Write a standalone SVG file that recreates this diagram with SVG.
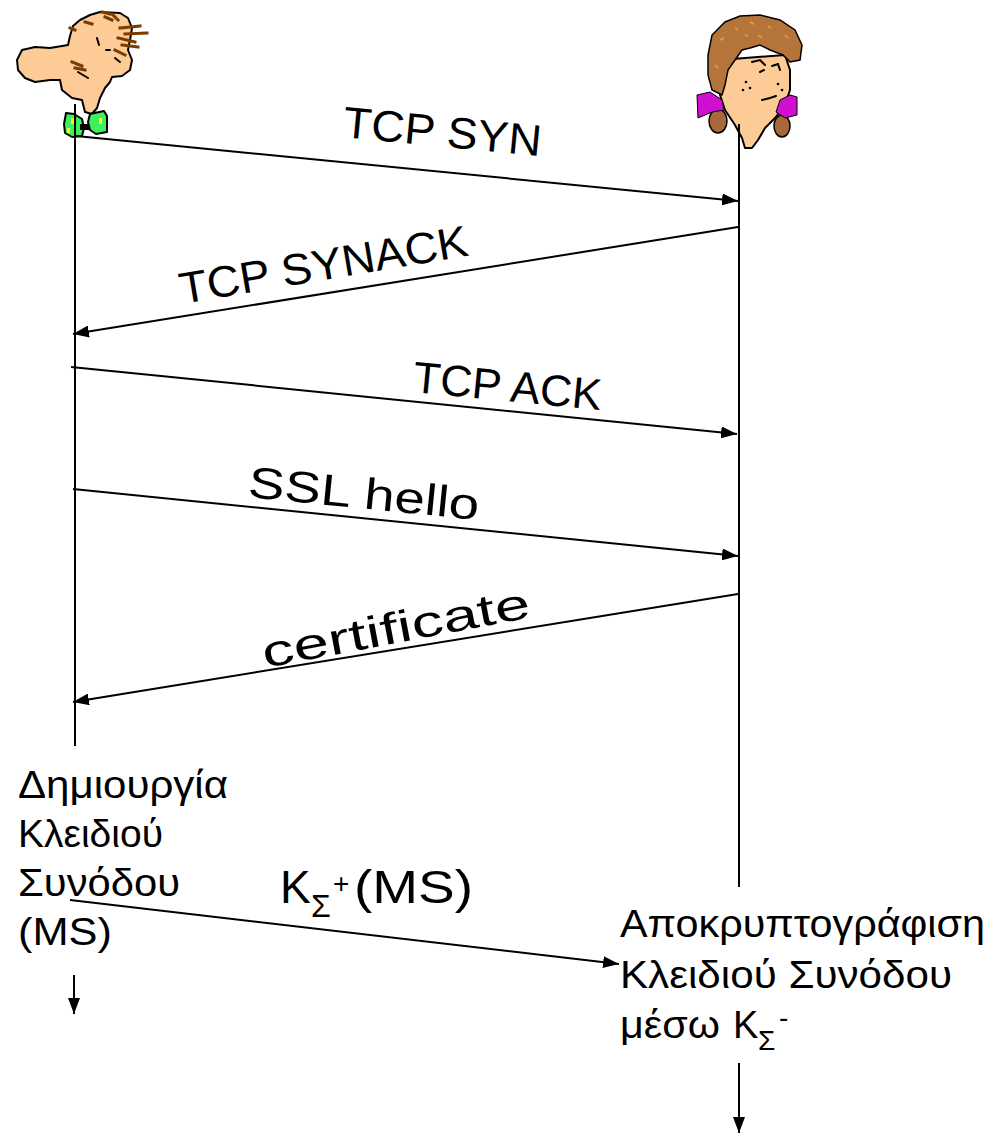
<svg xmlns="http://www.w3.org/2000/svg" width="993" height="1133" viewBox="0 0 993 1133">
  <style>
    .life { stroke: #000; stroke-width: 2; fill: none; }
    .msg { stroke: #000; stroke-width: 2; fill: none; marker-end: url(#head); }
    .lbl { font-family: "Liberation Sans", "DejaVu Sans", sans-serif; font-size: 44px; fill: #000; }
    .note { font-family: "Liberation Sans", "DejaVu Sans", sans-serif; font-size: 38px; fill: #000; }
    .big { font-size: 46px; }
    .sub { font-size: 32px; }
    .sup { font-size: 28px; }
    .subS { font-size: 28px; }
    .skin { fill: #fccb96; stroke: #000; stroke-width: 2; stroke-linejoin: round; }
    .hairB { stroke: #7a3c00; stroke-width: 3; fill: none; stroke-linecap: square; }
    .ink { stroke: #000; stroke-width: 2; fill: none; stroke-linecap: round; }
    .tie { fill: #3cf060; stroke: #000; stroke-width: 2; stroke-linejoin: round; }
  </style>
  <defs>
    <marker id="head" markerUnits="userSpaceOnUse" markerWidth="16" markerHeight="12" refX="16" refY="6" orient="auto">
      <path d="M0,0 L16,6 L0,12 Z" fill="#000"/>
    </marker>
  </defs>
  <rect width="993" height="1133" fill="#fff"/>

  <!-- client (left figure) -->
  <g id="bob">
    <path class="skin" d="M17,60 L22,50 L35,47 L50,48 L68,45 L70,36 L73,26 L80,20 L90,15 L100,12 L120,13 L128,18 L132,28 L130,40 L128,50 L132,60 L130,70 L122,76 L112,77 L110,82 L105,88 L100,98 L97,108 L92,114 L85,112 L82,100 L72,98 L62,90 L60,80 L50,80 L35,82 L25,78 L18,70 Z"/>
    <path class="hairB" d="M102,12 L110,14 M105,17 L112,20 M112,14 L118,20 M85,22 L92,24 M70,28 L75,30 M120,28 L140,26 M125,34 L147,33 M118,38 L135,42 M122,45 L138,47 M115,50 L125,55 M72,62 L82,66 M75,68 L85,70"/>
    <path class="ink" d="M97,38 L99,45 M106,50 L110,50 M115,58 L120,62 M78,72 L88,78"/>
    <path class="tie" d="M66,113 L74,114 L82,119 L84,128 L82,136 L72,137 L65,133 L64,124 Z"/>
    <path class="tie" d="M90,114 L104,111 L107,116 L107,132 L96,134 L90,130 L88,122 Z"/>
    <rect x="71" y="118" width="3" height="6" fill="#ffff00"/>
    <rect x="67" y="128" width="3" height="5" fill="#ffff00"/>
    <rect x="99" y="118" width="3" height="6" fill="#ffff00"/>
    <rect x="80" y="124" width="9" height="6" fill="#000"/>
  </g>

  <!-- server (right figure) -->
  <g id="alice">
    <ellipse cx="718" cy="121" rx="9" ry="12" fill="#a8683a" stroke="#000" stroke-width="1.5"/>
    <ellipse cx="782" cy="126" rx="8" ry="11" fill="#a8683a" stroke="#000" stroke-width="1.5"/>
    <path class="skin" d="M720,60 L718,80 L720,95 L725,110 L735,125 L742,138 L745,148 L752,148 L758,140 L765,128 L775,118 L785,105 L790,90 L790,70 L785,55 Z"/>
    <path d="M708,55 L712,35 L725,22 L740,16 L760,15 L780,20 L795,30 L802,45 L800,60 L790,62 L783,55 L770,50 L760,45 L750,48 L742,50 L735,60 L728,70 L725,85 L722,95 L712,90 L708,75 Z" fill="#b5743a" stroke="#000" stroke-width="1.5"/>
    <path d="M720,40 L724,38 M735,28 L738,30 M750,22 L754,24 M768,26 L771,28 M785,35 L788,38 M715,65 L718,68 M758,36 L762,37 M745,35 L748,36" stroke="#d89a40" stroke-width="2"/>
    <path class="ink" d="M752,62 L760,60 L765,65 M772,66 L778,64 L780,70 M760,72 L764,70 M762,100 L770,98 L776,96"/>
    <circle cx="746" cy="82" r="1.3"/>
    <circle cx="750" cy="88" r="1.3"/>
    <circle cx="743" cy="90" r="1.3"/>
    <circle cx="778" cy="84" r="1.3"/>
    <circle cx="782" cy="90" r="1.3"/>
    <path d="M697,95 L710,92 L722,100 L724,110 L712,112 L698,118 Z" fill="#d010d0" stroke="#000" stroke-width="1"/>
    <path d="M780,100 L790,95 L797,97 L797,115 L785,118 L776,112 Z" fill="#d010d0" stroke="#000" stroke-width="1"/>
  </g>

  <!-- lifelines and message arrows -->
  <g id="connectors">
    <line class="life" x1="75" y1="104" x2="75" y2="746"/>
    <line class="life" x1="739" y1="124" x2="739" y2="887"/>
    <line class="msg" x1="76" y1="136" x2="738" y2="201"/>
    <line class="msg" x1="738" y1="227" x2="73" y2="334"/>
    <line class="msg" x1="71" y1="367" x2="737" y2="434"/>
    <line class="msg" x1="73" y1="489" x2="738" y2="556"/>
    <line class="msg" x1="738" y1="594" x2="73" y2="702"/>
    <line class="msg" x1="70" y1="900" x2="619" y2="964"/>
    <line class="msg" x1="74" y1="975" x2="74" y2="1014"/>
    <line class="msg" x1="739" y1="1063" x2="739" y2="1133"/>
  </g>

  <!-- message labels -->
  <g id="labels">
    <text class="lbl" transform="translate(342,137) rotate(5.5)" textLength="199" lengthAdjust="spacingAndGlyphs">TCP SYN</text>
    <text class="lbl" transform="translate(182,304) rotate(-9.6)" textLength="292" lengthAdjust="spacingAndGlyphs">TCP SYNACK</text>
    <text class="lbl" transform="translate(412,392) rotate(5.5)" textLength="189" lengthAdjust="spacingAndGlyphs">TCP ACK</text>
    <text class="lbl" transform="translate(247,497) rotate(5.7)" textLength="232" lengthAdjust="spacingAndGlyphs">SSL hello</text>
    <text class="lbl" transform="translate(265,668) rotate(-10.8)" textLength="272" lengthAdjust="spacingAndGlyphs">certificate</text>
    <text class="lbl big" x="280" y="903">K</text>
    <text class="lbl sub" x="311" y="917">Σ</text>
    <text class="lbl sup" x="333" y="893">+</text>
    <text class="lbl big" x="354" y="903" textLength="119" lengthAdjust="spacingAndGlyphs">(MS)</text>
  </g>

  <!-- client-side note -->
  <g id="note-client">
    <text class="note" x="18" y="798" textLength="210" lengthAdjust="spacingAndGlyphs">Δημιουργία</text>
    <text class="note" x="18" y="847" textLength="145" lengthAdjust="spacingAndGlyphs">Κλειδιού</text>
    <text class="note" x="18" y="896" textLength="162" lengthAdjust="spacingAndGlyphs">Συνόδου</text>
    <text class="note" x="18" y="945" textLength="94" lengthAdjust="spacingAndGlyphs">(MS)</text>
  </g>

  <!-- server-side note -->
  <g id="note-server">
    <text class="note" x="620" y="937" textLength="365" lengthAdjust="spacingAndGlyphs">Αποκρυπτογράφιση</text>
    <text class="note" x="620" y="988" textLength="332" lengthAdjust="spacingAndGlyphs">Κλειδιού Συνόδου</text>
    <text class="note" x="620" y="1038" textLength="100" lengthAdjust="spacingAndGlyphs">μέσω</text>
    <text class="note" x="733" y="1038">K</text>
    <text class="note subS" x="758" y="1050">Σ</text>
    <text class="note subS" x="779" y="1027">-</text>
  </g>
</svg>
